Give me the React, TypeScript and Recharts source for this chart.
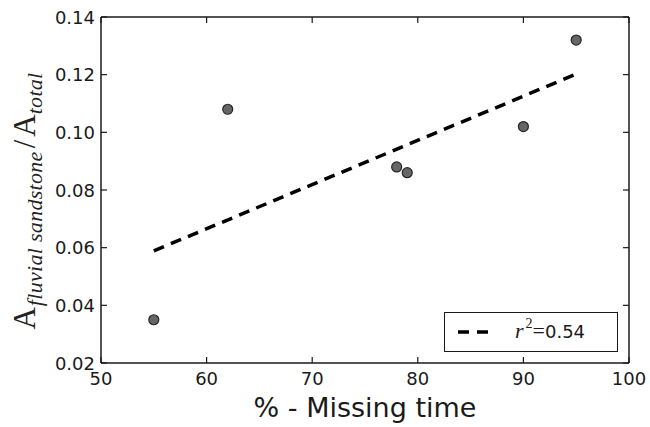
import React from 'react';
import { ComposedChart, Scatter, Line, XAxis, YAxis, Legend } from 'recharts';

// ---- data ----
const missingTime = [55, 62, 78, 79, 90, 95];
const areaRatio = [0.035, 0.108, 0.088, 0.086, 0.102, 0.132];
const fitX = [55, 95];
const fitY = [0.0589, 0.1202];
const xTicks = [50, 60, 70, 80, 90, 100];
const yTicks = [0.02, 0.04, 0.06, 0.08, 0.1, 0.12, 0.14];
const rSquaredLabel = '0.54';
const xAxisTitle = '% - Missing time';

const points = missingTime.map((x, i) => ({ x, y: areaRatio[i] }));
const fitLine = fitX.map((x, i) => ({ x, y: fitY[i] }));

const W = 650;
const H = 427;
const TICK_LEN = 6;
const FRAME = '#1a1a1a';
const SANS = '"DejaVu Sans", sans-serif';
const SERIF = '"Liberation Serif", "DejaVu Serif", serif';

const BottomTick = (props: any) => {
  const { x, y, payload } = props;
  return (
    <g>
      <line x1={x} x2={x} y1={y} y2={y - TICK_LEN} stroke={FRAME} strokeWidth={1.2} />
      <text x={x} y={y + 22} textAnchor="middle" fontSize={18} fontFamily={SANS} fill="#1a1a1a">
        {payload.value}
      </text>
    </g>
  );
};

const LeftTick = (props: any) => {
  const { x, y, payload } = props;
  return (
    <g>
      <line x1={x} x2={x + TICK_LEN} y1={y} y2={y} stroke={FRAME} strokeWidth={1.2} />
      <text x={x - 6} y={y + 6.5} textAnchor="end" fontSize={18} fontFamily={SANS} fill="#1a1a1a">
        {Number(payload.value).toFixed(2)}
      </text>
    </g>
  );
};

const TopTick = (props: any) => {
  const { x, y } = props;
  return <line x1={x} x2={x} y1={y} y2={y + TICK_LEN} stroke={FRAME} strokeWidth={1.2} />;
};

const RightTick = (props: any) => {
  const { x, y } = props;
  return <line x1={x} x2={x - TICK_LEN} y1={y} y2={y} stroke={FRAME} strokeWidth={1.2} />;
};

const YTitle = (props: any) => {
  const vb = props.viewBox || { x: 0, y: 17, width: 101, height: 346 };
  const cx = vb.x + 35;
  const cy = vb.y + vb.height / 2 + 11;
  const F = 31;
  const S = 22;
  return (
    <text
      transform={`translate(${cx}, ${cy}) rotate(-90)`}
      textAnchor="middle"
      fontFamily={SERIF}
      fill="#222"
      fontSize={F}
    >
      <tspan>A</tspan>
      <tspan fontSize={S} fontStyle="italic" dy={7} dx={1} letterSpacing={0.3}>fluvial  sandstone</tspan>
      <tspan dy={-7} dx={3}>/</tspan>
      <tspan dx={3}>A</tspan>
      <tspan fontSize={S} fontStyle="italic" dy={7} letterSpacing={0.3}>total</tspan>
    </text>
  );
};

const XTitle = (props: any) => {
  const vb = props.viewBox || { x: 101, y: 363, width: 528, height: 64 };
  return (
    <text x={vb.x + vb.width / 2} y={vb.y + 54} textAnchor="middle" fontSize={27} fontFamily={SANS} fill="#1a1a1a">
      {xAxisTitle}
    </text>
  );
};

const Dot = (props: any) => (
  <circle cx={props.cx} cy={props.cy} r={5} fill="#666666" stroke="#262626" strokeWidth={1.2} />
);

const LegendBox = () => (
  <div style={{ width: 174, height: 40, border: '1px solid #1a1a1a', boxSizing: 'border-box', background: '#fff' }}>
    <svg width={172} height={38} style={{ display: 'block' }}>
      <line x1={13} x2={45} y1={19} y2={19} stroke="#000" strokeWidth={3.5} strokeDasharray="11 8" />
      <text x={70} y={25} fill="#1a1a1a">
        <tspan fontFamily={SERIF} fontStyle="italic" fontSize={22}>r</tspan>
        <tspan fontFamily={SERIF} fontSize={14} dy={-10} dx={2}>2</tspan>
        <tspan fontFamily={SERIF} fontSize={22} dy={10}>=</tspan>
        <tspan fontFamily={SANS} fontSize={18}>{rSquaredLabel}</tspan>
      </text>
    </svg>
  </div>
);

export default function App() {
  return (
    <div style={{ position: 'absolute', left: 0, top: 0, width: W, height: H, background: '#fff' }}>
      <ComposedChart width={W} height={H} margin={{ top: 16, right: 20, bottom: 0, left: 0 }}>
        <XAxis
          xAxisId="main"
          type="number"
          dataKey="x"
          domain={[50, 100]}
          ticks={xTicks}
          interval={0}
          height={64}
          tickSize={0}
          tickMargin={0}
          tickLine={false}
          tick={<BottomTick />}
          axisLine={{ stroke: FRAME, strokeWidth: 1.5 }}
          label={<XTitle />}
          allowDataOverflow
        />
        <XAxis
          xAxisId="top"
          orientation="top"
          type="number"
          dataKey="x"
          domain={[50, 100]}
          ticks={xTicks}
          interval={0}
          height={1}
          tickSize={0}
          tickMargin={0}
          tickLine={false}
          tick={<TopTick />}
          axisLine={{ stroke: FRAME, strokeWidth: 1.5 }}
          allowDataOverflow
        />
        <YAxis
          yAxisId="main"
          type="number"
          dataKey="y"
          domain={[0.02, 0.14]}
          ticks={yTicks}
          interval={0}
          width={101}
          tickSize={0}
          tickMargin={0}
          tickLine={false}
          tick={<LeftTick />}
          axisLine={{ stroke: FRAME, strokeWidth: 1.5 }}
          label={<YTitle />}
          allowDataOverflow
        />
        <YAxis
          yAxisId="right"
          orientation="right"
          type="number"
          dataKey="y"
          domain={[0.02, 0.14]}
          ticks={yTicks}
          interval={0}
          width={1}
          tickSize={0}
          tickMargin={0}
          tickLine={false}
          tick={<RightTick />}
          axisLine={{ stroke: FRAME, strokeWidth: 1.5 }}
          allowDataOverflow
        />
        <Line
          xAxisId="main"
          yAxisId="main"
          data={fitLine}
          dataKey="y"
          type="linear"
          stroke="#000"
          strokeWidth={3.5}
          strokeDasharray="11 7.5"
          dot={false}
          activeDot={false}
          isAnimationActive={false}
          name="fit"
        />
        <Scatter
          xAxisId="main"
          yAxisId="main"
          data={points}
          dataKey="y"
          shape={<Dot />}
          isAnimationActive={false}
          legendType="none"
        />
        <Legend
          layout="vertical"
          align="center"
          verticalAlign="middle"
          width={174}
          height={40}
          wrapperStyle={{ left: 444, top: 312, width: 174, height: 40 }}
          content={<LegendBox />}
        />
      </ComposedChart>
    </div>
  );
}
